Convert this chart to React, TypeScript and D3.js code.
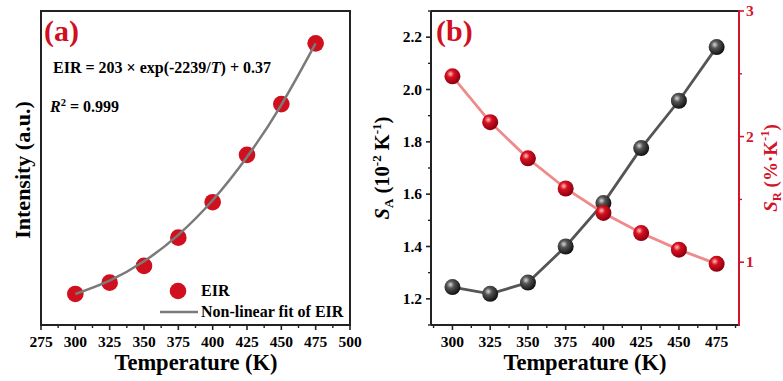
import React from "react";
import * as d3 from "d3";

const temps = [300, 325, 350, 375, 400, 425, 450, 475];
const eirValues = [0.486, 0.563, 0.677, 0.869, 1.11, 1.432, 1.777, 2.19];
const eirFit = [0.486, 0.577, 0.708, 0.888, 1.123, 1.417, 1.772, 2.19];
const saValues = [1.245, 1.219, 1.262, 1.4, 1.566, 1.776, 1.957, 2.162];
const srValues = [2.48, 2.115, 1.827, 1.587, 1.392, 1.232, 1.1, 0.987];
const xTicksA = [275, 300, 325, 350, 375, 400, 425, 450, 475, 500];
const xTicksB = [300, 325, 350, 375, 400, 425, 450, 475];
const yTicksSA = [1.2, 1.4, 1.6, 1.8, 2.0, 2.2];
const yTicksSR = [1, 2, 3];

const FONT = "'Liberation Serif', 'Times New Roman', serif";
const RED = "#d0101e";
const AXRED = "#d4142a";
const DARK = "#222";

export default function App() {
  const top = 11, bottom = 325;
  // panel a
  const xA = d3.scaleLinear().domain([275, 500]).range([41, 350]);
  const yA = d3.scaleLinear().domain([0.275, 2.41]).range([bottom, top]);
  // panel b
  const xB = d3.scaleLinear().domain([285.8, 489.8]).range([431, 739]);
  const yL = d3.scaleLinear().domain([1.1, 2.3]).range([bottom, top]);
  const yR = d3.scaleLinear().domain([0.5, 3]).range([bottom, top]);

  const fitLine = d3
    .line<number>()
    .x((_, i) => xA(temps[i]))
    .y((d) => yA(d))
    .curve(d3.curveNatural)(eirFit) as string;
  const saLine = d3
    .line<number>()
    .x((_, i) => xB(temps[i]))
    .y((d) => yL(d))(saValues) as string;
  const srLine = d3
    .line<number>()
    .x((_, i) => xB(temps[i]))
    .y((d) => yR(d))(srValues) as string;

  const minorA: number[] = [];
  for (let v = 287.5; v < 500; v += 25) minorA.push(v);
  const minorB: number[] = [];
  for (let v = 287.5; v < 489; v += 25) minorB.push(v);
  const minorSA: number[] = [];
  for (let v = 1.1; v < 2.31; v += 0.2) minorSA.push(+v.toFixed(2));
  const minorSR = [1.5, 2.5];

  const tickFont = { fontFamily: FONT, fontWeight: 700, fontSize: 15.5 } as const;

  return (
    <svg
      width={783}
      height={381}
      style={{ position: "absolute", left: 0, top: 0, background: "#fff" }}
      fontFamily={FONT}
    >
      <defs>
        <radialGradient id="gBlack" cx="38%" cy="35%" r="65%">
          <stop offset="0%" stopColor="#d8d8d8" />
          <stop offset="35%" stopColor="#555" />
          <stop offset="100%" stopColor="#111" />
        </radialGradient>
        <radialGradient id="gRed" cx="38%" cy="35%" r="65%">
          <stop offset="0%" stopColor="#ffc0c0" />
          <stop offset="35%" stopColor="#d81020" />
          <stop offset="100%" stopColor="#8a0010" />
        </radialGradient>
      </defs>

      {/* ---------- Panel (a) ---------- */}
      <rect x={41} y={top} width={309} height={bottom - top} fill="none" stroke={DARK} strokeWidth={2} />
      {xTicksA.map((t) => (
        <g key={"ta" + t}>
          <line x1={xA(t)} x2={xA(t)} y1={bottom} y2={bottom + 5} stroke={DARK} strokeWidth={1.6} />
          <text x={xA(t)} y={347} textAnchor="middle" {...tickFont}>
            {t}
          </text>
        </g>
      ))}
      {minorA.map((t) => (
        <line key={"ma" + t} x1={xA(t)} x2={xA(t)} y1={bottom} y2={bottom + 3} stroke={DARK} strokeWidth={1.4} />
      ))}
      {eirValues.map((v, i) => (
        <circle key={"pa" + i} cx={xA(temps[i])} cy={yA(v)} r={8.3} fill={RED} />
      ))}
      <path d={fitLine} fill="none" stroke="#7a7a7a" strokeWidth={2.5} />
      <text x={44} y={41} fill={RED} fontWeight={700} fontSize={30}>
        (a)
      </text>
      <text x={53} y={73} fontWeight={700} fontSize={16}>
        EIR = 203 × exp(-2239/<tspan fontStyle="italic">T</tspan>) + 0.37
      </text>
      <text x={50} y={112} fontWeight={700} fontSize={16}>
        <tspan fontStyle="italic">R</tspan>
        <tspan dy={-6} fontSize={10.5}>2</tspan>
        <tspan dy={6}> = 0.999</tspan>
      </text>
      {/* legend */}
      <circle cx={178} cy={291} r={8.3} fill={RED} />
      <text x={201} y={296} fontWeight={700} fontSize={16}>
        EIR
      </text>
      <line x1={160} x2={198} y1={312} y2={312} stroke="#7a7a7a" strokeWidth={2.5} />
      <text x={201} y={317} fontWeight={700} fontSize={16}>
        Non-linear fit of EIR
      </text>
      <text x={196} y={370} textAnchor="middle" fontWeight={700} fontSize={22.5}>
        Temperature (K)
      </text>
      <text transform="translate(30,170) rotate(-90)" textAnchor="middle" fontWeight={700} fontSize={22}>
        Intensity (a.u.)
      </text>

      {/* ---------- Panel (b) ---------- */}
      <line x1={431} x2={739} y1={top} y2={top} stroke={DARK} strokeWidth={2} />
      <line x1={431} x2={431} y1={top} y2={bottom} stroke={DARK} strokeWidth={2} />
      <line x1={431} x2={739} y1={bottom} y2={bottom} stroke={DARK} strokeWidth={2} />
      <line x1={739} x2={739} y1={top - 1} y2={bottom + 1} stroke={AXRED} strokeWidth={2} />
      {xTicksB.map((t) => (
        <g key={"tb" + t}>
          <line x1={xB(t)} x2={xB(t)} y1={bottom} y2={bottom + 5} stroke={DARK} strokeWidth={1.6} />
          <text x={xB(t)} y={347} textAnchor="middle" {...tickFont}>
            {t}
          </text>
        </g>
      ))}
      {minorB.map((t) => (
        <line key={"mb" + t} x1={xB(t)} x2={xB(t)} y1={bottom} y2={bottom + 3} stroke={DARK} strokeWidth={1.4} />
      ))}
      {yTicksSA.map((t) => (
        <g key={"tl" + t}>
          <line x1={431} x2={426} y1={yL(t)} y2={yL(t)} stroke={DARK} strokeWidth={1.6} />
          <text x={422} y={yL(t) + 5} textAnchor="end" {...tickFont}>
            {t.toFixed(1)}
          </text>
        </g>
      ))}
      {minorSA.map((t) => (
        <line key={"ml" + t} x1={431} x2={428} y1={yL(t)} y2={yL(t)} stroke={DARK} strokeWidth={1.4} />
      ))}
      {yTicksSR.map((t) => (
        <g key={"tr" + t}>
          <line x1={739} x2={744} y1={yR(t)} y2={yR(t)} stroke={AXRED} strokeWidth={1.6} />
          <text x={746} y={yR(t) + 5} textAnchor="start" {...tickFont} fill={AXRED}>
            {t}
          </text>
        </g>
      ))}
      {minorSR.map((t) => (
        <line key={"mr" + t} x1={739} x2={742} y1={yR(t)} y2={yR(t)} stroke={AXRED} strokeWidth={1.4} />
      ))}
      <path d={saLine} fill="none" stroke="#555" strokeWidth={2.8} />
      {saValues.map((v, i) => (
        <circle key={"sa" + i} cx={xB(temps[i])} cy={yL(v)} r={8} fill="url(#gBlack)" />
      ))}
      <path d={srLine} fill="none" stroke="#f08a8a" strokeWidth={2.8} />
      {srValues.map((v, i) => (
        <circle key={"sr" + i} cx={xB(temps[i])} cy={yR(v)} r={8} fill="url(#gRed)" />
      ))}
      <text x={436} y={41} fill={RED} fontWeight={700} fontSize={30}>
        (b)
      </text>
      <text x={585} y={370} textAnchor="middle" fontWeight={700} fontSize={22.5}>
        Temperature (K)
      </text>
      <text transform="translate(389,168) rotate(-90)" textAnchor="middle" fontWeight={700} fontSize={20.5}>
        <tspan fontStyle="italic">S</tspan>
        <tspan dy={4} fontSize={13}>A</tspan>
        <tspan dy={-4}> (10</tspan>
        <tspan dy={-8} fontSize={13}>-2</tspan>
        <tspan dy={8}> K</tspan>
        <tspan dy={-8} fontSize={13}>-1</tspan>
        <tspan dy={8}>)</tspan>
      </text>
      <text transform="translate(777,168) rotate(-90)" textAnchor="middle" fontWeight={700} fontSize={19} fill={AXRED}>
        <tspan fontStyle="italic">S</tspan>
        <tspan dy={4} fontSize={12.5}>R</tspan>
        <tspan dy={-4}> (%·K</tspan>
        <tspan dy={-8} fontSize={12.5}>-1</tspan>
        <tspan dy={8}>)</tspan>
      </text>
    </svg>
  );
}
